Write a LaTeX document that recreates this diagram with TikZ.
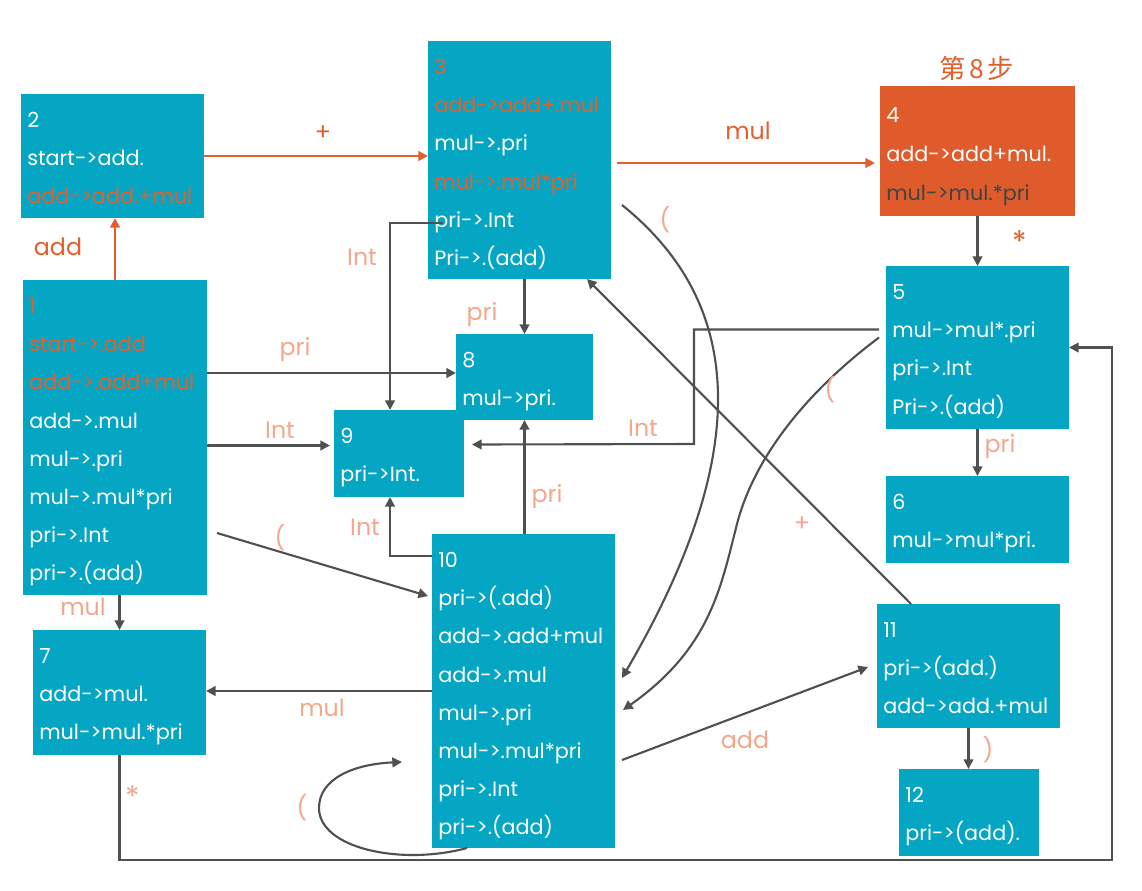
\documentclass[tikz,border=0pt]{standalone}
\usepackage{fontspec}
\setmainfont{Poppins}
\newfontfamily\cjkfont{Noto Sans CJK SC}
\usetikzlibrary{arrows.meta,calc}
\definecolor{tealb}{HTML}{05A6C3}
\definecolor{orbox}{HTML}{DF5B2B}
\definecolor{orng}{HTML}{E35F2C}
\definecolor{lineg}{HTML}{4D5150}
\definecolor{salm}{HTML}{F2A88C}
\definecolor{dtext}{HTML}{3F4444}
\newcommand\mkbox[6]{\node[boxst,fill=#6,minimum width={(#4-#2)*0.02cm},minimum height={(#5-#3)*0.02cm},anchor=north west] (#1) at (#2,#3) {};}
\newcommand\bl[5]{\node[txt,text=#4] (#1) at ($(#2.north west)+(6,#3)$) {#5};}
\newcommand\lb[4]{\node[lbl,text=#3] (#1) at (#2) {#4};}
\begin{document}
\begin{tikzpicture}[x=0.02cm,y=-0.02cm,
  boxst/.style={rectangle,inner sep=0pt,outer sep=0pt,draw=none},
  txt/.style={anchor=base west,inner sep=0pt,font=\fontsize{11.8}{14}\selectfont},
  lbl/.style={inner sep=0pt,font=\fontsize{13.5}{16}\selectfont},
  arr/.style={draw=lineg,line width=1.2pt,-{Triangle[length=5.5pt,width=5.5pt]}},
  oarr/.style={draw=orng,line width=1.2pt,-{Triangle[length=5.5pt,width=5.5pt]}}]
\useasboundingbox (0,0) rectangle (1142,890);
\fill[white] (0,0) rectangle (1142,890);
% boxes
\mkbox{n1}{23}{280}{207}{595}{tealb}
\mkbox{n2}{21}{94}{204}{218}{tealb}
\mkbox{n3}{428}{41}{611}{279}{tealb}
\mkbox{n4}{880}{86}{1075}{216}{orbox}
\mkbox{n5}{886}{266}{1069}{429}{tealb}
\mkbox{n6}{886}{476}{1069}{563}{tealb}
\mkbox{n7}{33}{630}{206}{755}{tealb}
\mkbox{n8}{456}{334}{593}{420}{tealb}
\mkbox{n9}{334}{410}{464}{497}{tealb}
\mkbox{n10}{432}{534}{615}{848}{tealb}
\mkbox{n11}{877}{604}{1060}{728}{tealb}
\mkbox{n12}{899}{769}{1039}{856}{tealb}
% box texts
\bl{t1a}{n1}{33}{orng}{1}
\bl{t1b}{n1}{71}{orng}{start->.add}
\bl{t1c}{n1}{109}{orng}{add->.add+mul}
\bl{t1d}{n1}{148}{white}{add->.mul}
\bl{t1e}{n1}{186}{white}{mul->.pri}
\bl{t1f}{n1}{224}{white}{mul->.mul*pri}
\bl{t1g}{n1}{262}{white}{pri->.Int}
\bl{t1h}{n1}{300}{white}{pri->.(add)}
\bl{t2a}{n2}{33}{white}{2}
\bl{t2b}{n2}{71}{white}{start->add.}
\bl{t2c}{n2}{109}{orng}{add->add.+mul}
\bl{t3a}{n3}{33}{orng}{3}
\bl{t3b}{n3}{71}{orng}{add->add+.mul}
\bl{t3c}{n3}{109}{white}{mul->.pri}
\bl{t3d}{n3}{148}{orng}{mul->.mul*pri}
\bl{t3e}{n3}{186}{white}{pri->.Int}
\bl{t3f}{n3}{224}{white}{Pri->.(add)}
\bl{t4a}{n4}{36}{white}{4}
\bl{t4b}{n4}{75}{white}{add->add+mul.}
\bl{t4c}{n4}{114}{dtext}{mul->mul.*pri}
\bl{t5a}{n5}{33}{white}{5}
\bl{t5b}{n5}{71}{white}{mul->mul*.pri}
\bl{t5c}{n5}{109}{white}{pri->.Int}
\bl{t5d}{n5}{148}{white}{Pri->.(add)}
\bl{t6a}{n6}{33}{white}{6}
\bl{t6b}{n6}{71}{white}{mul->mul*pri.}
\bl{t7a}{n7}{33}{white}{7}
\bl{t7b}{n7}{71}{white}{add->mul.}
\bl{t7c}{n7}{109}{white}{mul->mul.*pri}
\bl{t8a}{n8}{33}{white}{8}
\bl{t8b}{n8}{71}{white}{mul->pri.}
\bl{t9a}{n9}{33}{white}{9}
\bl{t9b}{n9}{71}{white}{pri->Int.}
\bl{t10a}{n10}{33}{white}{10}
\bl{t10b}{n10}{71}{white}{pri->(.add)}
\bl{t10c}{n10}{109}{white}{add->.add+mul}
\bl{t10d}{n10}{148}{white}{add->.mul}
\bl{t10e}{n10}{186}{white}{mul->.pri}
\bl{t10f}{n10}{224}{white}{mul->.mul*pri}
\bl{t10g}{n10}{262}{white}{pri->.Int}
\bl{t10h}{n10}{300}{white}{pri->.(add)}
\bl{t11a}{n11}{33}{white}{11}
\bl{t11b}{n11}{71}{white}{pri->(add.)}
\bl{t11c}{n11}{109}{white}{add->add.+mul}
\bl{t12a}{n12}{33}{white}{12}
\bl{t12b}{n12}{71}{white}{pri->(add).}
% title
\node[inner sep=0pt,text=orng,font=\cjkfont\fontsize{15}{18}\selectfont] (title) at (977,68) {第\hspace{2pt}8\hspace{2pt}步};
% connectors
\draw[oarr] (n1.north) -- (n1.north |- n2.south);
\draw[oarr] (n2.east) -- (n2.east -| n3.west);
\draw[oarr] ($(n3.east)+(6,3)$) -- ($(n4.west)+(-5,12)$);
\draw[arr] (n4.south) -- (n4.south |- n5.north);
\draw[arr] (n5.south) -- (n5.south |- n6.north);
\draw[arr] (n8.north |- n3.south) -- (n8.north);
\draw[arr] ($(n3.west)+(15,63)$) -| ($(n9.north)+(-9,0)$);
\coordinate (e18) at ($(n8.west)+(0,-4)$);
\draw[arr] (e18 -| n1.east) -- (e18);
\coordinate (e19) at ($(n9.west)+(-4,-8)$);
\draw[arr] (e19 -| n1.east) -- (e19);
\draw[arr] ($(n1.south east)+(10,-62)$) -- ($(n10.north west)+(-4,62)$);
\draw[arr] (n7.north |- n1.south) -- (n7.north);
\draw[arr] (n10.west) -- (n10.west -| n7.east);
\draw[arr] ($(n10.north west)+(0,22)$) -| ($(n9.south)+(-9,0)$);
\draw[arr] (n8.south |- n10.north) -- (n8.south);
\draw[arr] ($(n10.south west)+(35,0)$) .. controls (400,866) and (319,848) .. (319,808)
  .. controls (319,778) and (355,764) .. ($(n10.west)+(-30,71)$);
\draw[arr] ($(n10.east)+(7,69)$) -- ($(n11.west)+(-9,1)$);
\draw[arr] ($(n11.north west)+(34,0)$) -- ($(n3.south east)+(-24,0)$);
\draw[arr] (n11.south) -- (n11.south |- n12.north);
\coordinate (c75) at (1112,860);
\draw[arr] (n7.south) |- (c75) |- (n5.east);
\coordinate (c59) at (694,444);
\draw[arr] ($(n5.west)+(-7,-18)$) -| (c59) -- ($(n9.east)+(8,-9)$);
\draw[arr] ($(n3.east)+(11,45)$) .. controls (740,300) and (758,445) .. ($(n10.east)+(7,-13)$);
\draw[arr] ($(n5.west)+(-7,-10)$) .. controls (801,396) and (753,462) .. (737,524)
  .. controls (721,586) and (711,648) .. ($(n10.east)+(8,19)$);
% labels
\lb{l1}{58,247}{orng}{add}
\lb{l2}{323,133}{orng}{+}
\lb{l3}{748,131}{orng}{mul}
\lb{l4}{1020,242}{orng}{\fontsize{17}{18}\selectfont *}
\lb{l5}{1000,447}{salm}{pri}
\lb{l6}{482,315}{salm}{pri}
\lb{l7}{362,257}{salm}{Int}
\lb{l8}{295,350}{salm}{pri}
\lb{l9}{280,430}{salm}{Int}
\lb{l10}{280,538}{salm}{(}
\lb{l11}{83,607}{salm}{mul}
\lb{l12}{322,708}{salm}{mul}
\lb{l13}{365,527}{salm}{Int}
\lb{l14}{547,497}{salm}{pri}
\lb{l15}{302,808}{salm}{(}
\lb{l16}{745,740}{salm}{add}
\lb{l17}{802,524}{salm}{+}
\lb{l18}{988,750}{salm}{)}
\lb{l19}{133,797}{salm}{\fontsize{17}{18}\selectfont *}
\lb{l20}{643,428}{salm}{Int}
\lb{l21}{665,220}{salm}{(}
\lb{l22}{830,390}{salm}{(}
\end{tikzpicture}
\end{document}
